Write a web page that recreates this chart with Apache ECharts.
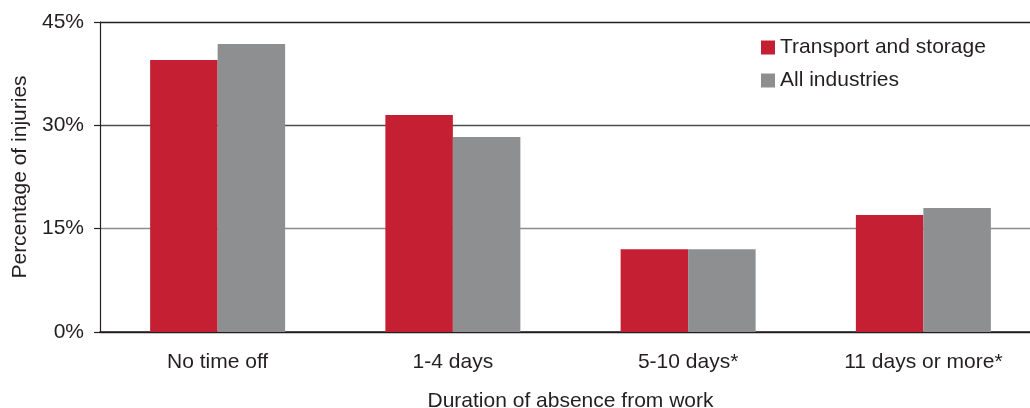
<!DOCTYPE html>
<html>
<head>
<meta charset="utf-8">
<script src="https://cdn.jsdelivr.net/npm/echarts@6/dist/echarts.min.js"></script>
<style>
  html, body { margin: 0; padding: 0; background: #ffffff; }
  #chart { width: 1030px; height: 408px; }
</style>
</head>
<body>
<div id="chart"></div>
<script>
// Share of injuries by length of absence from work
const categories = ['No time off', '1-4 days', '5-10 days*', '11 days or more*'];
const transportStorage = [39.5, 31.5, 12.0, 17.0];
const allIndustries = [41.8, 28.3, 12.0, 18.0];
const yTicks = [0, 15, 30, 45];

const textColor = '#231f20';
const fontFamily = '"Liberation Sans", Arial, Helvetica, sans-serif';
const fontSize = 21;

const chart = echarts.init(document.getElementById('chart'), null, { renderer: 'canvas' });

chart.setOption({
  animation: false,
  backgroundColor: '#ffffff',
  textStyle: { fontFamily: fontFamily, color: textColor },
  legend: {
    orient: 'vertical',
    left: 756,
    top: 32,
    itemWidth: 14,
    itemHeight: 14,
    itemGap: 12,
    icon: 'rect',
    textStyle: { fontSize: fontSize, color: textColor, fontFamily: fontFamily },
    data: ['Transport and storage', 'All industries']
  },
  grid: {
    left: 100,
    top: 22,
    width: 941,
    height: 310,
    containLabel: false,
    outerBoundsMode: 'none'
  },
  xAxis: {
    type: 'category',
    data: categories,
    name: 'Duration of absence from work',
    nameLocation: 'middle',
    nameGap: 59,
    nameTextStyle: { fontSize: fontSize, color: textColor, fontFamily: fontFamily },
    axisLine: { show: true, lineStyle: { color: '#231f20', width: 1.5 } },
    axisTick: { show: false },
    axisLabel: { fontSize: fontSize, color: textColor, margin: 20, fontFamily: fontFamily }
  },
  yAxis: {
    type: 'value',
    min: yTicks[0],
    max: yTicks[yTicks.length - 1],
    interval: yTicks[1] - yTicks[0],
    name: 'Percentage of injuries',
    nameLocation: 'middle',
    nameGap: 69,
    nameTextStyle: { fontSize: fontSize, color: textColor, fontFamily: fontFamily },
    axisLine: { show: true, lineStyle: { color: '#231f20', width: 1.2 } },
    axisTick: { show: true, length: 6, lineStyle: { color: '#231f20', width: 1.2 } },
    axisLabel: {
      fontSize: fontSize,
      color: textColor,
      margin: 16,
      fontFamily: fontFamily,
      formatter: v => v + '%'
    },
    splitLine: {
      show: true,
      lineStyle: { color: ['#231f20', '#8c8c8c', '#4d4d4d', '#231f20'], width: 1.3 }
    }
  },
  series: [
    {
      name: 'Transport and storage',
      type: 'bar',
      data: transportStorage,
      barWidth: 67.5,
      barGap: '0%',
      itemStyle: { color: '#c41f32' }
    },
    {
      name: 'All industries',
      type: 'bar',
      data: allIndustries,
      barWidth: 67.5,
      barGap: '0%',
      itemStyle: { color: '#8e8f91' }
    }
  ]
});
</script>
</body>
</html>
